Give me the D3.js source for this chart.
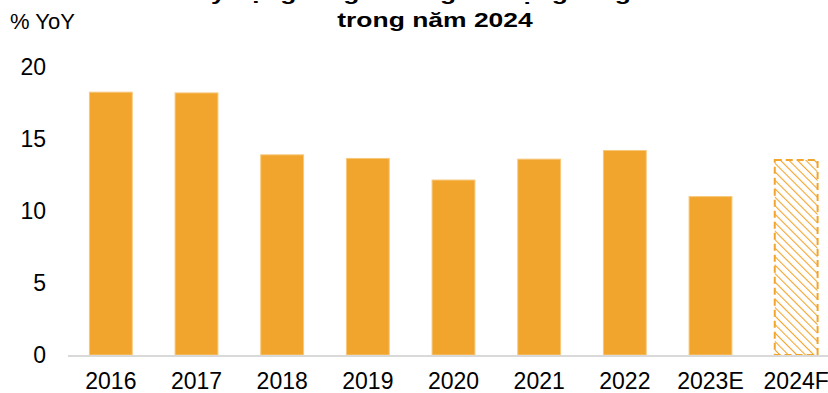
<!DOCTYPE html>
<html>
<head>
<meta charset="utf-8">
<script src="https://cdn.jsdelivr.net/npm/d3@7"></script>
<style>
  body { margin: 0; background: #fff; }
  svg { display: block; font-family: "Liberation Sans", Arial, sans-serif; }
</style>
</head>
<body>
<div id="chart"></div>
<script>
// data
var years = ["2016", "2017", "2018", "2019", "2020", "2021", "2022", "2023E", "2024F"];
var growth = [18.25, 18.2, 13.9, 13.65, 12.15, 13.6, 14.2, 11.0, 13.55];
var forecast = [false, false, false, false, false, false, false, false, true];
var yTicks = [0, 5, 10, 15, 20];
var titleLines = ["Kỳ vọng tăng trưởng tín dụng tăng tốc", "trong năm 2024"];

var W = 828, H = 393;
var orange = "#F2A52D";

var svg = d3.select("#chart").append("svg")
	.attr("width", W)
	.attr("height", H);

var x = d3.scaleBand()
	.domain(years)
	.range([68, 839])
	.paddingInner(0.5)
	.paddingOuter(0.25);

var y = d3.scaleLinear()
	.domain([0, 20])
	.range([355, 67]);

// hatch pattern for the forecast bar
var defs = svg.append("defs");
var pat = defs.append("pattern")
	.attr("id", "hatch")
	.attr("patternUnits", "userSpaceOnUse")
	.attr("width", 6)
	.attr("height", 6)
	.attr("patternTransform", "rotate(-45)");
pat.append("line")
	.attr("x1", 0).attr("y1", 0)
	.attr("x2", 0).attr("y2", 6)
	.attr("stroke", orange)
	.attr("stroke-width", 2.2);

var data = years.map(function (d, i) {
	return { year: d, value: growth[i], fc: forecast[i] };
});

// bars
svg.append("g").selectAll("rect")
	.data(data)
	.enter()
	.append("rect")
	.attr("x", function (d) { return x(d.year); })
	.attr("y", function (d) { return y(d.value); })
	.attr("width", x.bandwidth())
	.attr("height", function (d) { return y(0) - y(d.value); })
	.attr("fill", function (d) { return d.fc ? "url(#hatch)" : orange; })
	.attr("stroke", function (d) { return d.fc ? orange : "#F7C77A"; })
	.attr("stroke-width", function (d) { return d.fc ? 2 : 1; })
	.attr("stroke-dasharray", function (d) { return d.fc ? "7,4" : null; });

// baseline
svg.append("line")
	.attr("x1", 68).attr("x2", W)
	.attr("y1", y(0) + 1).attr("y2", y(0) + 1)
	.attr("stroke", "#d9d9d9")
	.attr("stroke-width", 2);

// y axis labels
var yAxis = svg.append("g")
	.attr("transform", "translate(46,0)")
	.call(d3.axisLeft(y).tickValues(yTicks).tickSize(0).tickPadding(0));
yAxis.select(".domain").remove();
yAxis.selectAll("text")
	.attr("font-family", "Liberation Sans, Arial, sans-serif")
	.attr("font-size", 23)
	.attr("fill", "#000");

// x axis labels
var xAxis = svg.append("g")
	.attr("transform", "translate(0," + (y(0) + 10) + ")")
	.call(d3.axisBottom(x).tickSize(0).tickPadding(8));
xAxis.select(".domain").remove();
xAxis.selectAll("text")
	.attr("font-family", "Liberation Sans, Arial, sans-serif")
	.attr("font-size", 23)
	.attr("fill", "#000");

// unit label
svg.append("text")
	.attr("x", 10)
	.attr("y", 29)
	.attr("font-size", 22)
	.attr("fill", "#000")
	.text("% YoY");

// title (first line is cut by the top edge), drawn a bit wide like the source
var sx = 1.26;
svg.append("g")
	.attr("transform", "scale(" + sx + ",1)")
	.selectAll("text")
	.data(titleLines)
	.enter()
	.append("text")
	.attr("x", 435 / sx)
	.attr("y", function (d, i) { return -0.5 + i * 27.5; })
	.attr("text-anchor", "middle")
	.attr("font-size", 21)
	.attr("font-weight", "bold")
	.attr("fill", "#000")
	.text(function (d) { return d; });
</script>
</body>
</html>
